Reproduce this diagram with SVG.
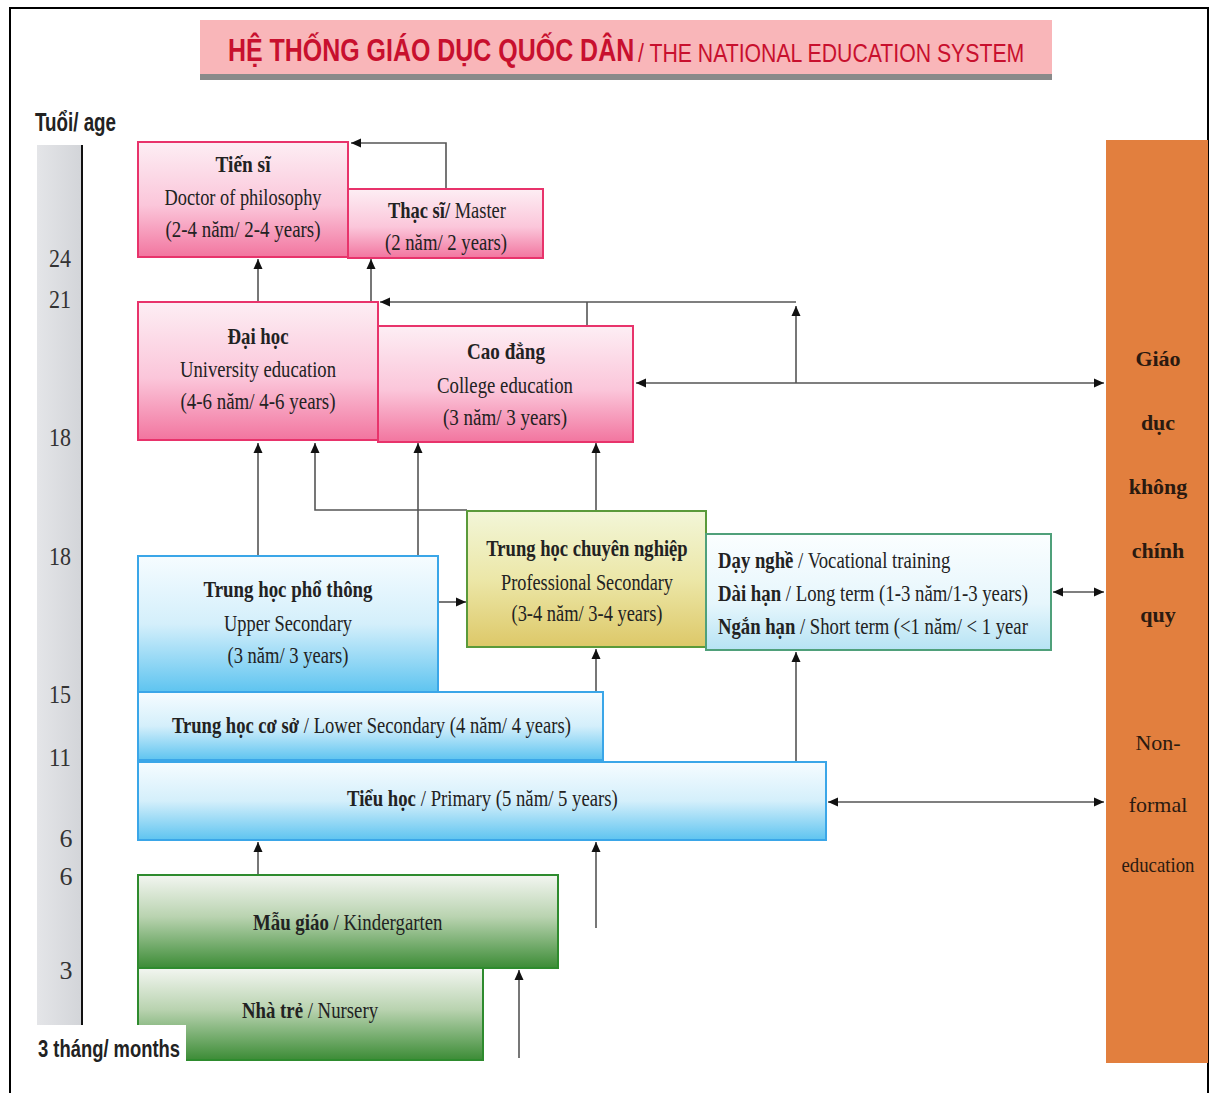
<svg xmlns="http://www.w3.org/2000/svg" width="1210" height="1093" viewBox="0 0 1210 1093">
<style>
.t{font-family:"Liberation Serif","Times New Roman",serif;font-size:23px;fill:#222;}
.b{font-weight:bold;}
.c{text-anchor:middle;}
.s{font-family:"Liberation Sans",Arial,sans-serif;font-weight:bold;fill:#222;}
.age{font-family:"Liberation Serif",serif;font-size:26px;fill:#333;text-anchor:middle;}
.ln{fill:none;stroke:#555;stroke-width:1.6;}
.pink{fill:url(#gPink);stroke:#e8336b;stroke-width:2;}
.blue{fill:url(#gBlue);stroke:#3aa6e8;stroke-width:2;}
.green{fill:url(#gGreen);stroke:#2e8b2e;stroke-width:2;}
.olive{fill:url(#gOlive);stroke:#5a9a3a;stroke-width:2;}
.voc{fill:url(#gVoc);stroke:#4fa07a;stroke-width:2;}
.or{font-family:"Liberation Serif",serif;font-size:22px;fill:#2a1a10;text-anchor:middle;}
</style>
<defs>
<linearGradient id="gPink" x1="0" y1="0" x2="0" y2="1"><stop offset="0" stop-color="#fdeef4"/><stop offset="0.55" stop-color="#fbc6da"/><stop offset="1" stop-color="#f2759f"/></linearGradient>
<linearGradient id="gBlue" x1="0" y1="0" x2="0" y2="1"><stop offset="0" stop-color="#f6fcff"/><stop offset="0.5" stop-color="#d4effb"/><stop offset="1" stop-color="#5ec4f0"/></linearGradient>
<linearGradient id="gGreen" x1="0" y1="0" x2="0" y2="1"><stop offset="0" stop-color="#f3f6f1"/><stop offset="0.45" stop-color="#b9d3b0"/><stop offset="1" stop-color="#3c8c36"/></linearGradient>
<linearGradient id="gOlive" x1="0" y1="0" x2="0" y2="1"><stop offset="0" stop-color="#f2f6d8"/><stop offset="0.5" stop-color="#ece7a8"/><stop offset="1" stop-color="#ddc868"/></linearGradient>
<linearGradient id="gVoc" x1="0" y1="0" x2="0" y2="1"><stop offset="0" stop-color="#fbfeff"/><stop offset="0.6" stop-color="#e6f6fc"/><stop offset="1" stop-color="#b6e3f4"/></linearGradient>
<linearGradient id="gAxis" x1="0" y1="0" x2="1" y2="0"><stop offset="0" stop-color="#e4e5e8"/><stop offset="1" stop-color="#d3d5d9"/></linearGradient>
<marker id="ar" markerUnits="userSpaceOnUse" markerWidth="10" markerHeight="10" refX="10" refY="5" orient="auto-start-reverse"><path d="M0,0.5 L10,5 L0,9.5 z" fill="#111"/></marker>
</defs>
<rect width="1210" height="1093" fill="#fff"/>
<rect x="10" y="8" width="1198" height="1100" fill="none" stroke="#000" stroke-width="2"/>

<g id="title">
<rect x="200" y="72" width="852" height="8" fill="#8a8a8a"/>
<rect x="200" y="20" width="852" height="54" fill="#f9b6b9"/>
<text transform="translate(228,61) scale(0.78,1)" font-family="Liberation Sans,Arial,sans-serif" font-weight="bold" font-size="32" fill="#c8102e">HỆ THỐNG GIÁO DỤC QUỐC DÂN</text>
<text transform="translate(638,62) scale(0.85,1)" font-family="Liberation Sans,Arial,sans-serif" font-size="25" fill="#c8102e">/ THE NATIONAL EDUCATION SYSTEM</text>
</g>

<g id="age-axis">
<text x="35" y="131" class="s" font-size="26" textLength="81" lengthAdjust="spacingAndGlyphs">Tuổi/ age</text>
<rect x="37" y="145" width="44" height="880" fill="url(#gAxis)"/>
<line x1="82" y1="145" x2="82" y2="1025" stroke="#111" stroke-width="2"/>
<text class="age" x="60" y="267" textLength="22" lengthAdjust="spacingAndGlyphs">24</text>
<text class="age" x="60" y="308" textLength="22" lengthAdjust="spacingAndGlyphs">21</text>
<text class="age" x="60" y="446" textLength="22" lengthAdjust="spacingAndGlyphs">18</text>
<text class="age" x="60" y="565" textLength="22" lengthAdjust="spacingAndGlyphs">18</text>
<text class="age" x="60" y="703" textLength="22" lengthAdjust="spacingAndGlyphs">15</text>
<text class="age" x="60" y="766" textLength="22" lengthAdjust="spacingAndGlyphs">11</text>
<text class="age" x="66" y="847">6</text>
<text class="age" x="66" y="885">6</text>
<text class="age" x="66" y="979">3</text>
</g>

<g id="connectors">
<path class="ln" d="M446,189 V143 H351" marker-end="url(#ar)"/>
<path class="ln" d="M258,302 V259" marker-end="url(#ar)"/>
<path class="ln" d="M371,302 V259" stroke="#4a8a8a" marker-end="url(#ar)"/>
<path class="ln" d="M796,302 H380" marker-end="url(#ar)"/>
<path class="ln" d="M587,302 V326"/>
<path class="ln" d="M796,383 V306" marker-end="url(#ar)"/>
<path class="ln" d="M636,383 H1104" marker-start="url(#ar)" marker-end="url(#ar)"/>
<path class="ln" d="M258,556 V443" marker-end="url(#ar)"/>
<path class="ln" d="M467,510 H315 V443" marker-end="url(#ar)"/>
<path class="ln" d="M418,556 V443" marker-end="url(#ar)"/>
<path class="ln" d="M596,511 V443" marker-end="url(#ar)"/>
<path class="ln" d="M438,602 H466" marker-end="url(#ar)"/>
<path class="ln" d="M596,692 V649" marker-end="url(#ar)"/>
<path class="ln" d="M796,762 V652" marker-end="url(#ar)"/>
<path class="ln" d="M1053,592 H1104" marker-start="url(#ar)" marker-end="url(#ar)"/>
<path class="ln" d="M828,802 H1104" marker-start="url(#ar)" marker-end="url(#ar)"/>
<path class="ln" d="M258,875 V842" marker-end="url(#ar)"/>
<path class="ln" d="M596,928 V842" marker-end="url(#ar)"/>
<path class="ln" d="M519,1058 V970" marker-end="url(#ar)"/>
</g>

<g id="tien-si">
<rect class="pink" x="138" y="142" width="210" height="115"/>
<text class="t b c" x="243" y="172" textLength="55" lengthAdjust="spacingAndGlyphs">Tiến sĩ</text>
<text class="t c" x="243" y="205" textLength="157" lengthAdjust="spacingAndGlyphs">Doctor of philosophy</text>
<text class="t c" x="243" y="237" textLength="155" lengthAdjust="spacingAndGlyphs">(2-4 năm/ 2-4 years)</text>
</g>

<g id="thac-si">
<rect class="pink" x="348" y="189" width="195" height="69"/>
<g transform="translate(388,218) scale(0.803,1)">
<text class="t b" x="0" y="0">Thạc sĩ/</text>
<text class="t" x="83" y="0">Master</text>
</g>
<text class="t c" x="446" y="250" textLength="122" lengthAdjust="spacingAndGlyphs">(2 năm/ 2 years)</text>
</g>

<g id="dai-hoc">
<rect class="pink" x="138" y="302" width="240" height="138"/>
<text class="t b c" x="258" y="344" textLength="61" lengthAdjust="spacingAndGlyphs">Đại học</text>
<text class="t c" x="258" y="377" textLength="156" lengthAdjust="spacingAndGlyphs">University education</text>
<text class="t c" x="258" y="409" textLength="155" lengthAdjust="spacingAndGlyphs">(4-6 năm/ 4-6 years)</text>
</g>

<g id="cao-dang">
<rect class="pink" x="378" y="326" width="255" height="116"/>
<text class="t b c" x="506" y="359" textLength="78" lengthAdjust="spacingAndGlyphs">Cao đẳng</text>
<text class="t c" x="505" y="393" textLength="136" lengthAdjust="spacingAndGlyphs">College education</text>
<text class="t c" x="505" y="425" textLength="124" lengthAdjust="spacingAndGlyphs">(3 năm/ 3 years)</text>
</g>

<g id="thpt">
<rect class="blue" x="138" y="556" width="300" height="136"/>
<text class="t b c" x="288" y="597" textLength="169" lengthAdjust="spacingAndGlyphs">Trung học phổ thông</text>
<text class="t c" x="288" y="631" textLength="128" lengthAdjust="spacingAndGlyphs">Upper Secondary</text>
<text class="t c" x="288" y="663" textLength="121" lengthAdjust="spacingAndGlyphs">(3 năm/ 3 years)</text>
</g>

<g id="thcn">
<rect class="olive" x="467" y="511" width="239" height="136"/>
<text class="t b c" transform="translate(587,556) scale(0.808,1)">Trung học chuyên nghiệp</text>
<text class="t c" x="587" y="590" textLength="172" lengthAdjust="spacingAndGlyphs">Professional Secondary</text>
<text class="t c" x="587" y="621" textLength="151" lengthAdjust="spacingAndGlyphs">(3-4 năm/ 3-4 years)</text>
</g>

<g id="day-nghe">
<rect class="voc" x="706" y="534" width="345" height="116"/>
<g transform="translate(718,568) scale(0.814,1)">
<text class="t b" x="0" y="0">Dạy nghề</text>
<text class="t" x="98.4" y="0">/ Vocational training</text>
</g>
<g transform="translate(718,601) scale(0.816,1)">
<text class="t b" x="0" y="0">Dài hạn</text>
<text class="t" x="83.1" y="0">/ Long term (1-3 năm/1-3 years)</text>
</g>
<g transform="translate(718,634) scale(0.812,1)">
<text class="t b" x="0" y="0">Ngắn hạn</text>
<text class="t" x="101" y="0">/ Short term (&lt;1 năm/ &lt; 1 year</text>
</g>
</g>

<g id="thcs">
<rect class="blue" x="138" y="692" width="465" height="68"/>
<g transform="translate(172,733) scale(0.808,1)">
<text class="t b" x="0" y="0">Trung học cơ sở</text>
<text class="t" x="163.2" y="0">/ Lower Secondary (4 năm/ 4 years)</text>
</g>
</g>

<g id="tieu-hoc">
<rect class="blue" x="138" y="762" width="688" height="78"/>
<g transform="translate(347,806) scale(0.814,1)">
<text class="t b" x="0" y="0">Tiểu học</text>
<text class="t" x="90.7" y="0">/ Primary (5 năm/ 5 years)</text>
</g>
</g>

<g id="mau-giao">
<rect class="green" x="138" y="875" width="420" height="93"/>
<g transform="translate(253,930) scale(0.819,1)">
<text class="t b" x="0" y="0">Mẫu giáo</text>
<text class="t" x="98.4" y="0">/ Kindergarten</text>
</g>
</g>

<g id="nha-tre">
<rect class="green" x="138" y="968" width="345" height="92"/>
<g transform="translate(242,1018) scale(0.816,1)">
<text class="t b" x="0" y="0">Nhà trẻ</text>
<text class="t" x="80.5" y="0">/ Nursery</text>
</g>
</g>

<g id="months-label">
<rect x="34" y="1025" width="152" height="38" fill="#fff"/>
<text x="38" y="1057" class="s" font-size="24" textLength="142" lengthAdjust="spacingAndGlyphs">3 tháng/ months</text>
</g>

<g id="non-formal">
<rect x="1106" y="140" width="102" height="923" fill="#e27f3e"/>
<text class="or b" x="1158" y="366">Giáo</text>
<text class="or b" x="1158" y="430">dục</text>
<text class="or b" x="1158" y="494">không</text>
<text class="or b" x="1158" y="558">chính</text>
<text class="or b" x="1158" y="622">quy</text>
<text class="or" x="1158" y="750">Non-</text>
<text class="or" x="1158" y="812">formal</text>
<text class="or" x="1158" y="872" textLength="73" lengthAdjust="spacingAndGlyphs">education</text>
</g>
</svg>
